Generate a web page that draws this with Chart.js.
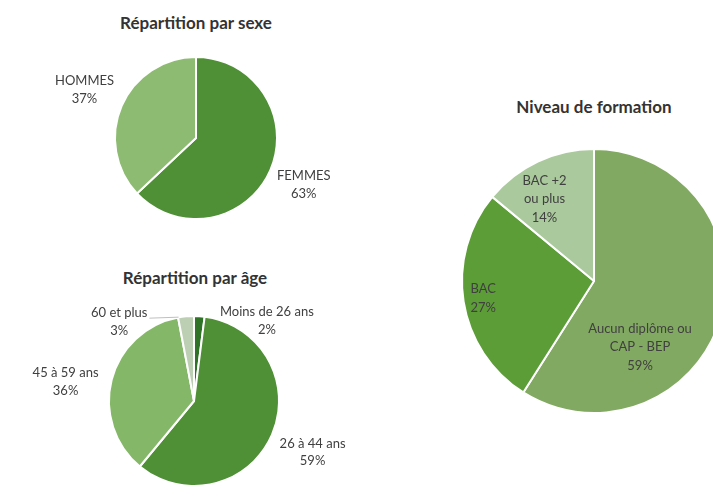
<!DOCTYPE html>
<html><head><meta charset="utf-8">
<script src="https://cdn.jsdelivr.net/npm/chart.js@4/dist/chart.umd.min.js"></script>
<style>
html,body{margin:0;padding:0;width:713px;height:503px;overflow:hidden;background:#fff;}
body{position:relative;font-family:Lato,"Open Sans",sans-serif;}
canvas{position:absolute;}
.title{position:absolute;font-weight:bold;font-size:17px;color:#333;transform:translate(-50%,-50%);white-space:nowrap;}
</style></head>
<body>
<div class="title" style="left:196px;top:22px">Répartition par sexe</div>
<div class="title" style="left:195px;top:277px">Répartition par âge</div>
<div class="title" style="left:594px;top:106px">Niveau de formation</div>
<canvas id="c1" width="320" height="320" style="left:36px;top:-22px"></canvas>
<canvas id="c2" width="380" height="380" style="left:4px;top:211px"></canvas>
<canvas id="c3" width="300" height="300" style="left:444px;top:131px"></canvas>
<script>
// ---- data ----
const sexeCategories = [["FEMMES"], ["HOMMES"]];
const sexeValues = [63, 37];

const ageCategories = [["Moins de 26 ans"], ["26 à 44 ans"], ["45 à 59 ans"], ["60 et plus"]];
const ageValues = [2, 59, 36, 3];

const formationCategories = [["Aucun diplôme ou", "CAP - BEP"], ["BAC"], ["BAC +2", "ou plus"]];
const formationValues = [59, 27, 14];

// ---- styles ----
const sexeColors = ['#4f8f35', '#8dbb72'];
const ageColors = ['#2f7327', '#4f8f35', '#84b868', '#bccfb3'];
const formationColors = ['#82a962', '#5c9d38', '#aac99c'];

const sliceLabels = {
  id: 'sliceLabels',
  afterDatasetsDraw(chart, args, opts) {
    const ctx = chart.ctx;
    const meta = chart.getDatasetMeta(0);
    const cats = opts.categories;
    const vals = chart.data.datasets[0].data;
    ctx.save();
    ctx.font = '13px Lato, "Open Sans", sans-serif';
    ctx.fillStyle = '#404040';
    ctx.textAlign = 'center';
    ctx.textBaseline = 'middle';
    const lh = opts.lineHeight || 17.5;
    meta.data.forEach((arc, i) => {
      const p = arc.getProps(['x', 'y', 'startAngle', 'endAngle', 'outerRadius'], true);
      const mid = (p.startAngle + p.endAngle) / 2;
      const f = opts.factors[i];
      const off = (opts.offsets && opts.offsets[i]) || [0, 0];
      const lx = p.x + Math.cos(mid) * p.outerRadius * f + off[0];
      const ly = p.y + Math.sin(mid) * p.outerRadius * f + off[1];
      const lines = cats[i].concat([vals[i] + '%']);
      const y0 = ly - (lines.length - 1) * lh / 2;
      lines.forEach((t, k) => ctx.fillText(t, lx, y0 + k * lh));
      if (opts.leaders && opts.leaders[i]) {
        const w = ctx.measureText(lines[0]).width;
        const ex = p.x + Math.cos(p.startAngle) * p.outerRadius * 0.97;
        ctx.strokeStyle = '#bfbfbf';
        ctx.lineWidth = 1;
        ctx.beginPath();
        ctx.moveTo(lx + w / 2 + 2, y0 + 5);
        ctx.lineTo(ex, y0 + 4);
        ctx.stroke();
      }
    });
    ctx.restore();
  }
};

function makePie(id, values, colors, radius, labelOpts) {
  return new Chart(document.getElementById(id), {
    type: 'pie',
    data: {
      labels: labelOpts.categories.map(c => c.join(' ')),
      datasets: [{
        data: values,
        backgroundColor: colors,
        borderColor: '#ffffff',
        borderWidth: 2,
        radius: radius
      }]
    },
    options: {
      responsive: false,
      devicePixelRatio: 1,
      animation: false,
      events: [],
      layout: { padding: 0 },
      plugins: {
        legend: { display: false },
        tooltip: { enabled: false },
        sliceLabels: labelOpts
      }
    },
    plugins: [sliceLabels]
  });
}

makePie('c1', sexeValues, sexeColors, 81, {
  categories: sexeCategories,
  factors: [1.45, 1.5],
  offsets: [[0, 0], [0, 0]]
});

makePie('c2', ageValues, ageColors, 85, {
  categories: ageCategories,
  factors: [1.1, 1.52, 1.56, 1.1],
  offsets: [[67, 13], [0, 0], [0, 14], [-66, 14]],
  leaders: [false, false, false, true]
});

makePie('c3', formationValues, formationColors, 132, {
  categories: formationCategories,
  factors: [0.6, 0.85, 0.72],
  offsets: [[-30, 44], [0, 0], [-9, 4]],
  lineHeight: 18.5
});
</script>
</body></html>
